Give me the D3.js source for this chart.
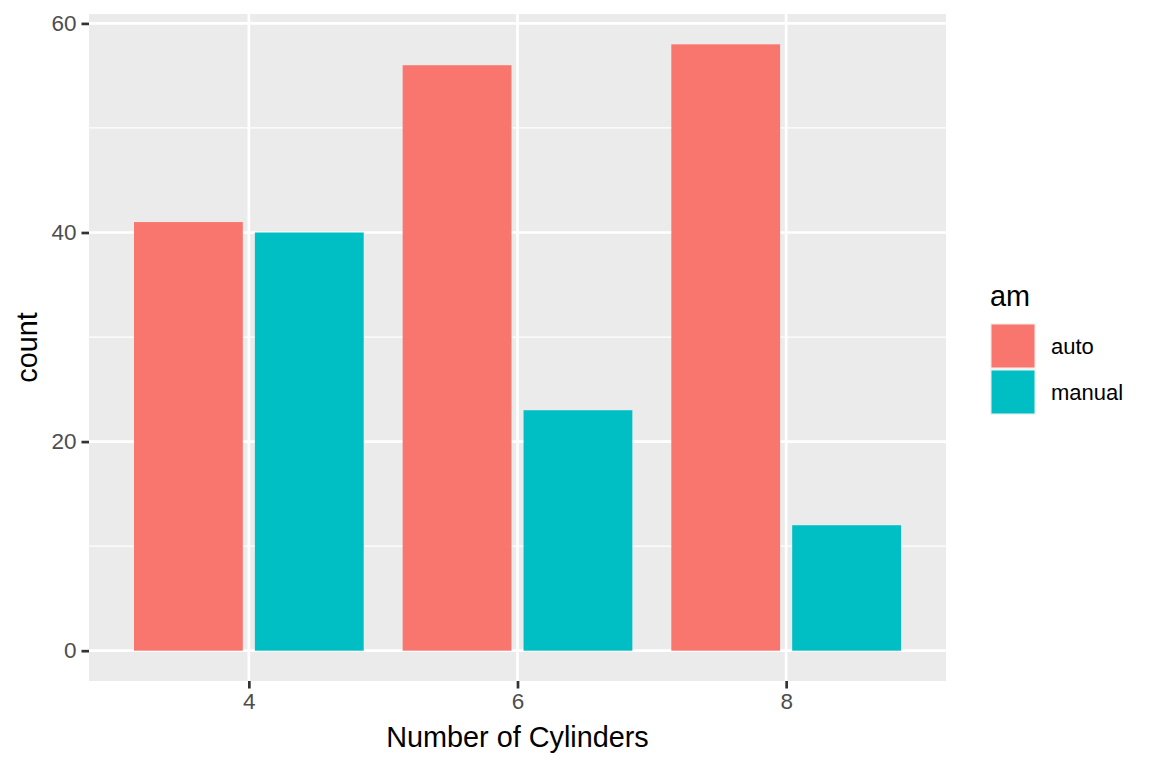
<!DOCTYPE html>
<html>
<head>
<meta charset="utf-8">
<script src="https://cdn.jsdelivr.net/npm/d3@7"></script>
<style>
  html, body { margin: 0; padding: 0; background: #ffffff; }
  svg { display: block; }
  text { font-family: "Liberation Sans", Arial, sans-serif; }
</style>
</head>
<body>
<svg id="chart" width="1152" height="768"></svg>
<script>
// ---- data ----
const cylinders = [4, 6, 8];
const amLevels = ["auto", "manual"];
const autoCounts = [41, 56, 58];
const manualCounts = [40, 23, 12];
const xTickValues = [4, 6, 8];
const yTickValues = [0, 20, 40, 60];
const yMinorValues = [10, 30, 50];
const amColors = ["#F8766D", "#00BFC4"];

// ---- layout ----
const panel = { left: 89, right: 946, top: 14, bottom: 681 };

const svg = d3.select("#chart");

const rows = [];
cylinders.forEach((c, i) => {
  rows.push({ cyl: c, am: amLevels[0], g: 0, n: autoCounts[i] });
  rows.push({ cyl: c, am: amLevels[1], g: 1, n: manualCounts[i] });
});

// dodge: total width 1.8, padding 0.1
const dodgeWidth = 1.8, padding = 0.1;
const nGroups = amLevels.length;
const slot = dodgeWidth / nGroups;
const barW = slot * (1 - padding);

const xMin = d3.min(cylinders) - dodgeWidth / 2;
const xMax = d3.max(cylinders) + dodgeWidth / 2;
const xPad = (xMax - xMin) * 0.05;
const x = d3.scaleLinear().domain([xMin - xPad, xMax + xPad]).range([panel.left, panel.right]);

const yMaxData = d3.max(rows, d => d.n);
const yPad = yMaxData * 0.05;
const y = d3.scaleLinear().domain([-yPad, yMaxData + yPad]).range([panel.bottom, panel.top]);

// panel background
svg.append("rect")
  .attr("x", panel.left).attr("y", panel.top)
  .attr("width", panel.right - panel.left).attr("height", panel.bottom - panel.top)
  .attr("fill", "#EBEBEB");

// minor grid
svg.append("g").selectAll("line").data(yMinorValues).join("line")
  .attr("x1", panel.left).attr("x2", panel.right)
  .attr("y1", d => y(d)).attr("y2", d => y(d))
  .attr("stroke", "#ffffff").attr("stroke-width", 1.3);

// major grid
svg.append("g").selectAll("line").data(yTickValues).join("line")
  .attr("x1", panel.left).attr("x2", panel.right)
  .attr("y1", d => y(d)).attr("y2", d => y(d))
  .attr("stroke", "#ffffff").attr("stroke-width", 2.7);
svg.append("g").selectAll("line").data(xTickValues).join("line")
  .attr("y1", panel.top).attr("y2", panel.bottom)
  .attr("x1", d => x(d)).attr("x2", d => x(d))
  .attr("stroke", "#ffffff").attr("stroke-width", 2.7);

// bars
svg.append("g").selectAll("rect").data(rows).join("rect")
  .attr("x", d => x(d.cyl - dodgeWidth / 2 + slot * d.g + (slot - barW) / 2))
  .attr("width", d => x(barW) - x(0))
  .attr("y", d => y(d.n))
  .attr("height", d => y(0) - y(d.n))
  .attr("fill", d => amColors[d.g]);

// axes
const yAxis = d3.axisLeft(y).tickValues(yTickValues).tickSize(7.5).tickPadding(5).tickFormat(d3.format("d"));
const gy = svg.append("g").attr("transform", `translate(${panel.left},0)`).call(yAxis);
gy.select(".domain").remove();
gy.selectAll(".tick line").attr("stroke", "#333333").attr("stroke-width", 2.7);
gy.selectAll(".tick text").attr("fill", "#4D4D4D").attr("font-size", 22.5)
  .attr("font-family", "Liberation Sans, Arial, sans-serif");

const xAxis = d3.axisBottom(x).tickValues(xTickValues).tickSize(7.5).tickPadding(5).tickFormat(d3.format("d"));
const gx = svg.append("g").attr("transform", `translate(0,${panel.bottom})`).call(xAxis);
gx.select(".domain").remove();
gx.selectAll(".tick line").attr("stroke", "#333333").attr("stroke-width", 2.7);
gx.selectAll(".tick text").attr("fill", "#4D4D4D").attr("font-size", 22.5)
  .attr("font-family", "Liberation Sans, Arial, sans-serif");

// axis titles
svg.append("text")
  .attr("x", (panel.left + panel.right) / 2).attr("y", 747)
  .attr("text-anchor", "middle").attr("font-size", 28.8).attr("fill", "#000")
  .text("Number of Cylinders");
svg.append("text")
  .attr("transform", `translate(37,${(panel.top + panel.bottom) / 2}) rotate(-90)`)
  .attr("text-anchor", "middle").attr("font-size", 28.8).attr("fill", "#000")
  .text("count");

// legend
const lg = svg.append("g");
lg.append("text").attr("x", 990).attr("y", 306).attr("font-size", 28.8).attr("fill", "#000").text("am");
const keySize = 46, keyTop = 323, keyLeft = 990;
amLevels.forEach((lvl, i) => {
  const ky = keyTop + i * keySize;
  lg.append("rect").attr("x", keyLeft).attr("y", ky).attr("width", keySize).attr("height", keySize).attr("fill", "#F2F2F2");
  lg.append("rect").attr("x", keyLeft + 1.5).attr("y", ky + 1.5).attr("width", keySize - 3).attr("height", keySize - 3).attr("fill", amColors[i]);
  lg.append("text").attr("x", 1051).attr("y", ky + keySize / 2).attr("dy", "0.35em")
    .attr("font-size", 22).attr("fill", "#000").text(lvl);
});
</script>
</body>
</html>
